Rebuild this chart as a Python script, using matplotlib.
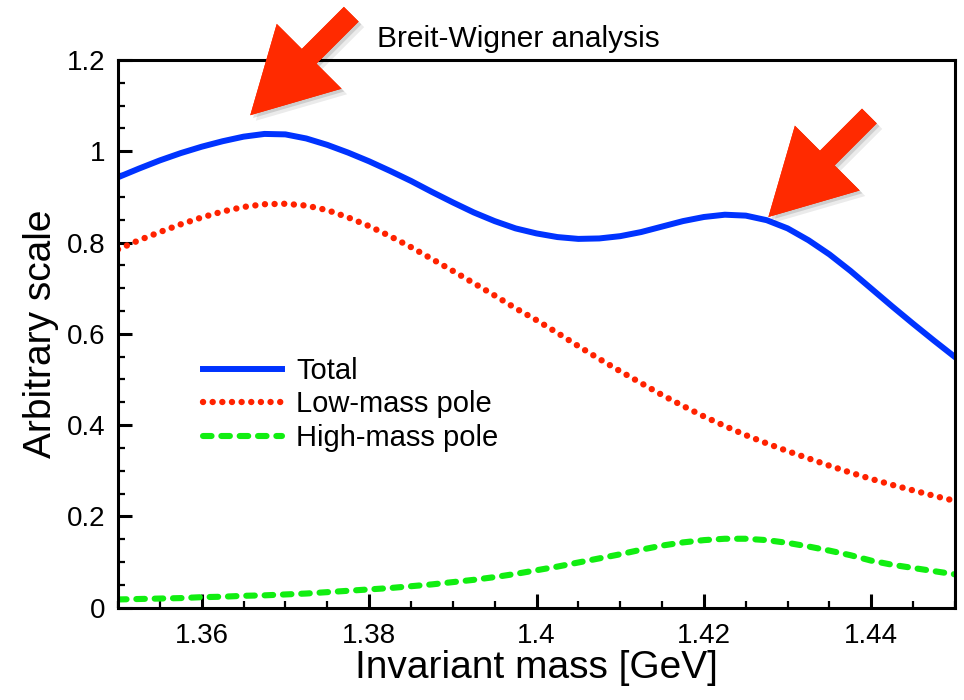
import matplotlib
matplotlib.use("Agg")
import matplotlib.pyplot as plt
from matplotlib import patheffects
from matplotlib.ticker import MultipleLocator, FuncFormatter

plt.rcParams["font.family"] = ["Liberation Sans", "DejaVu Sans"]

# invariant mass grid [GeV]
mass = [
    1.3500, 1.3525, 1.3550, 1.3575, 1.3600, 1.3625, 1.3650, 1.3675, 1.3700, 1.3725,
    1.3750, 1.3775, 1.3800, 1.3825, 1.3850, 1.3875, 1.3900, 1.3925, 1.3950, 1.3975,
    1.4000, 1.4025, 1.4050, 1.4075, 1.4100, 1.4125, 1.4150, 1.4175, 1.4200, 1.4225,
    1.4250, 1.4275, 1.4300, 1.4325, 1.4350, 1.4375, 1.4400, 1.4425, 1.4450, 1.4475,
    1.4500,
]

total = [
    0.943, 0.962, 0.980, 0.996, 1.010, 1.022, 1.032, 1.038, 1.037, 1.028,
    1.014, 0.997, 0.978, 0.957, 0.935, 0.911, 0.888, 0.866, 0.847, 0.831,
    0.820, 0.812, 0.808, 0.809, 0.814, 0.823, 0.835, 0.847, 0.856, 0.861,
    0.859, 0.849, 0.831, 0.805, 0.774, 0.738, 0.699, 0.660, 0.622, 0.585,
    0.549,
]

low_pole = [
    0.785, 0.805, 0.823, 0.840, 0.855, 0.868, 0.878, 0.884, 0.885, 0.881,
    0.871, 0.855, 0.836, 0.814, 0.790, 0.764, 0.738, 0.711, 0.684, 0.656,
    0.630, 0.602, 0.573, 0.545, 0.518, 0.492, 0.466, 0.442, 0.419, 0.398,
    0.378, 0.360, 0.343, 0.327, 0.311, 0.296, 0.282, 0.269, 0.257, 0.245,
    0.234,
]

high_pole = [
    0.018, 0.019, 0.020, 0.021, 0.023, 0.024, 0.026, 0.027, 0.029, 0.031,
    0.034, 0.037, 0.040, 0.043, 0.047, 0.051, 0.056, 0.061, 0.067, 0.074,
    0.082, 0.090, 0.099, 0.108, 0.117, 0.127, 0.136, 0.143, 0.148, 0.151,
    0.151, 0.148, 0.142, 0.134, 0.125, 0.115, 0.103, 0.094, 0.087, 0.080,
    0.073,
]

fig = plt.figure(figsize=(9.64, 7.0), dpi=100)
ax = fig.add_axes([0.1224, 0.1319, 0.8683, 0.7824])

ax.plot(mass, total, color="#0033ff", lw=4.3, solid_joinstyle="round", label="Total")
ax.plot(mass, low_pole, color="#ff2200", lw=4.6, linestyle=(0, (0.01, 1.5)),
        dash_capstyle="round", label="Low-mass pole")
ax.plot(mass, high_pole, color="#11ee11", lw=4.4, linestyle=(0, (1.4, 1.6)),
        dash_capstyle="round", label="High-mass pole")

ax.set_xlim(1.35, 1.45)
ax.set_ylim(0, 1.2)

ax.xaxis.set_major_locator(MultipleLocator(0.02))
ax.xaxis.set_minor_locator(MultipleLocator(0.005))
ax.yaxis.set_major_locator(MultipleLocator(0.2))
ax.yaxis.set_minor_locator(MultipleLocator(0.05))
fmt = FuncFormatter(lambda v, pos: f"{v:g}")
ax.xaxis.set_major_formatter(fmt)
ax.yaxis.set_major_formatter(fmt)

for s in ax.spines.values():
    s.set_linewidth(2.2)
ax.tick_params(which="both", direction="in", top=False, right=False)
ax.tick_params(which="major", length=10, width=2.2, labelsize=20)
ax.tick_params(which="minor", length=5, width=1.6)
ax.tick_params(axis="x", which="major", pad=11)
ax.tick_params(axis="y", which="major", pad=9)

ax.set_xlabel("Invariant mass [GeV]", fontsize=28, labelpad=1)
ax.set_ylabel("Arbitrary scale", fontsize=28, labelpad=6)
fig.text(0.538, 0.924, "Breit-Wigner analysis", fontsize=21.5, ha="center", va="bottom")

ax.legend(loc="upper left", bbox_to_anchor=(0.1016, 0.458), frameon=False,
          fontsize=21, handlelength=2.7, handletextpad=0.5, labelspacing=0.19,
          borderpad=0, borderaxespad=0)

# big red arrows pointing at the two peaks
shadow = [
    patheffects.withSimplePatchShadow(offset=(2, -2), shadow_rgbFace="k", alpha=0.12),
    patheffects.withSimplePatchShadow(offset=(4, -4), shadow_rgbFace="k", alpha=0.08),
]
arrow_style = dict(
    arrowstyle="simple,head_length=1.0,head_width=1.1,tail_width=0.25",
    mutation_scale=60, color="#ff2a00", lw=0, shrinkA=0, shrinkB=0,
    path_effects=shadow,
)
for tip in [(1.3658, 1.079), (1.4277, 0.856)]:
    ax.annotate("", xy=tip, xycoords="data", xytext=(101, 101),
                textcoords="offset pixels", arrowprops=arrow_style,
                annotation_clip=False)

fig.savefig("out.png", dpi=100)
